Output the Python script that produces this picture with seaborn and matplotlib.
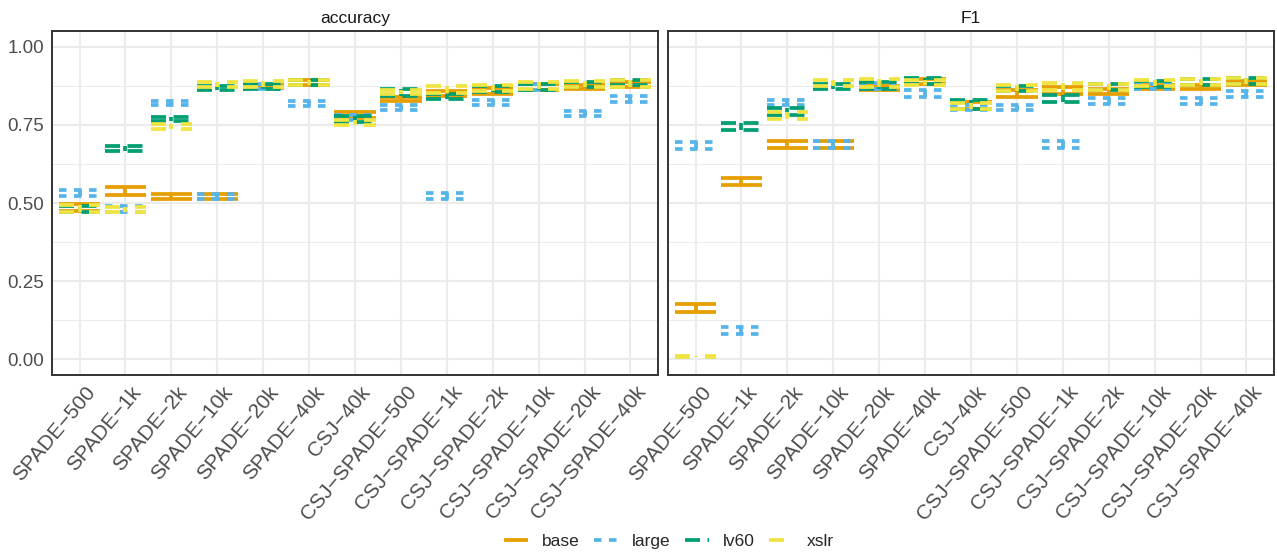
"""
Accuracy / F1 ranges per training set and model, faceted errorbar chart
"""

import numpy as np
import pandas as pd
import matplotlib
matplotlib.use("Agg")
import matplotlib.pyplot as plt
import matplotlib.transforms as mtransforms
import seaborn as sns
from matplotlib.lines import Line2D

# === Data ===
categories = ["SPADE-500", "SPADE-1k", "SPADE-2k", "SPADE-10k", "SPADE-20k", "SPADE-40k",
              "CSJ-40k", "CSJ-SPADE-500", "CSJ-SPADE-1k", "CSJ-SPADE-2k",
              "CSJ-SPADE-10k", "CSJ-SPADE-20k", "CSJ-SPADE-40k"]
models = ["base", "large", "lv60", "xslr"]
metrics = ["accuracy", "F1"]

nan = np.nan

# accuracy (min / max over runs)
acc_base_lo = [0.475, 0.527, 0.513, 0.513, 0.867, 0.877, 0.772, 0.826, 0.842, 0.850, 0.860, 0.865, 0.872]
acc_base_hi = [0.497, 0.550, 0.530, 0.530, 0.878, 0.892, 0.790, 0.840, 0.858, 0.868, 0.880, 0.877, 0.888]
acc_large_lo = [0.522, 0.472, 0.812, 0.513, 0.866, 0.811, 0.765, 0.797, 0.512, 0.812, 0.862, 0.778, 0.822]
acc_large_hi = [0.540, 0.492, 0.827, 0.530, 0.880, 0.827, 0.782, 0.814, 0.532, 0.830, 0.882, 0.795, 0.843]
acc_lv60_lo = [0.470, 0.665, 0.762, 0.860, 0.866, 0.876, 0.760, 0.842, 0.832, 0.856, 0.862, 0.870, 0.876]
acc_lv60_hi = [0.490, 0.683, 0.776, 0.874, 0.880, 0.892, 0.778, 0.864, 0.850, 0.874, 0.882, 0.888, 0.893]
acc_xslr_lo = [0.470, 0.470, 0.738, 0.872, 0.870, 0.877, 0.748, 0.847, 0.852, 0.858, 0.864, 0.870, 0.872]
acc_xslr_hi = [0.495, 0.487, 0.752, 0.886, 0.890, 0.893, 0.767, 0.860, 0.873, 0.876, 0.886, 0.891, 0.894]

# F1 (min / max over runs)
f1_base_lo = [0.152, 0.556, 0.677, 0.677, 0.862, 0.880, 0.802, 0.840, 0.850, 0.850, 0.865, 0.866, 0.876]
f1_base_hi = [0.178, 0.580, 0.698, 0.698, 0.873, 0.898, 0.823, 0.860, 0.870, 0.863, 0.878, 0.878, 0.890]
f1_large_lo = [0.672, 0.080, 0.812, 0.677, 0.866, 0.840, 0.796, 0.796, 0.677, 0.815, 0.864, 0.815, 0.840]
f1_large_hi = [0.694, 0.103, 0.830, 0.698, 0.883, 0.860, 0.813, 0.813, 0.698, 0.835, 0.880, 0.835, 0.859]
f1_lv60_lo = [nan, 0.735, 0.780, 0.864, 0.866, 0.880, 0.800, 0.857, 0.822, 0.861, 0.871, 0.877, 0.881]
f1_lv60_hi = [nan, 0.757, 0.803, 0.880, 0.888, 0.900, 0.828, 0.874, 0.845, 0.880, 0.891, 0.895, 0.900]
f1_xslr_lo = [0.006, nan, 0.768, 0.875, 0.871, 0.876, 0.800, 0.858, 0.862, 0.861, 0.873, 0.878, 0.880]
f1_xslr_hi = [0.012, nan, 0.790, 0.894, 0.896, 0.894, 0.820, 0.878, 0.884, 0.882, 0.894, 0.898, 0.901]

ranges = {
    ("accuracy", "base"): (acc_base_lo, acc_base_hi),
    ("accuracy", "large"): (acc_large_lo, acc_large_hi),
    ("accuracy", "lv60"): (acc_lv60_lo, acc_lv60_hi),
    ("accuracy", "xslr"): (acc_xslr_lo, acc_xslr_hi),
    ("F1", "base"): (f1_base_lo, f1_base_hi),
    ("F1", "large"): (f1_large_lo, f1_large_hi),
    ("F1", "lv60"): (f1_lv60_lo, f1_lv60_hi),
    ("F1", "xslr"): (f1_xslr_lo, f1_xslr_hi),
}

colors = {"base": "#E69F00", "large": "#56B4E9", "lv60": "#009E73", "xslr": "#F0E442"}
linestyles = {"base": "-", "large": (0, (2, 2)), "lv60": (0, (4, 2)), "xslr": (0, (4, 4))}
LW = 2.7

# long table: two rows (min, max) per metric / model / category
rows = []
for (metric, model), (lo, hi) in ranges.items():
    for cat, a, b in zip(categories, lo, hi):
        if np.isnan(a):
            continue
        rows.append({"metric": metric, "model": model, "category": cat, "value": a})
        rows.append({"metric": metric, "model": model, "category": cat, "value": b})
df = pd.DataFrame(rows)

# === Style ===
sns.set_style("white")
plt.rcParams["font.family"] = ["Liberation Sans", "DejaVu Sans"]
FS = 12.5
FS_Y = 13.5
FS_X = 15.0
ROT = 50

fig = plt.figure(figsize=(12.77, 5.54), dpi=100)
W, H = 1277, 554
ax1 = fig.add_axes([52 / W, 179 / H, 606 / W, 344 / H])
ax2 = fig.add_axes([668 / W, 179 / H, 606 / W, 344 / H], sharey=ax1)

shift = mtransforms.ScaledTranslation(5 / 100, 0, fig.dpi_scale_trans)

for ax, metric in zip([ax1, ax2], metrics):
    sub = df[df["metric"] == metric]
    for model in models:
        d = sub[sub["model"] == model]
        sns.pointplot(
            data=d, x="category", y="value", order=categories,
            errorbar=lambda v: (v.min(), v.max()),
            capsize=0.9, color=colors[model],
            marker="", linestyle="none", ax=ax,
            err_kws={"linewidth": LW, "linestyle": linestyles[model],
                     "solid_capstyle": "butt", "dash_capstyle": "butt"},
        )

    ax.set_xlim(-0.6, len(categories) - 0.4)
    ax.set_ylim(-0.05, 1.05)
    ax.set_yticks([0, 0.25, 0.5, 0.75, 1.0])
    ax.set_yticks([0.125, 0.375, 0.625, 0.875], minor=True)
    ax.grid(True, which="major", color="#EBEBEB", linewidth=1.5)
    ax.grid(True, which="minor", axis="y", color="#EBEBEB", linewidth=0.75)
    ax.set_axisbelow(True)
    ax.set_xlabel("")
    ax.set_ylabel("")
    ax.set_title(metric, fontsize=FS, color="#1A1A1A", pad=6)
    for s in ax.spines.values():
        s.set_color("#333333")
        s.set_linewidth(1.4)
    ax.tick_params(axis="both", which="major", length=3.5, width=1.0, color="#333333",
                   labelcolor="#4D4D4D", pad=2)
    ax.tick_params(axis="y", labelsize=FS_Y)
    ax.tick_params(axis="y", which="minor", length=0)
    ax.set_xticks(range(len(categories)))
    ax.set_xticklabels([c.replace("-", "\u2212") for c in categories], fontsize=FS_X,
                       rotation=ROT, ha="right", va="top", rotation_mode="anchor")
    for lab in ax.get_xticklabels():
        lab.set_transform(lab.get_transform() + shift)

ax1.set_yticklabels(["0.00", "0.25", "0.50", "0.75", "1.00"])
ax2.tick_params(axis="y", which="both", left=False, labelleft=False)

handles = [Line2D([0], [0], color=colors[m], lw=LW, linestyle=linestyles[m],
                  solid_capstyle="butt", dash_capstyle="butt") for m in models]
fig.legend(handles, models, loc="center", bbox_to_anchor=(669 / W, 1 - 541.5 / H),
           ncol=4, frameon=False, fontsize=FS, handlelength=1.4, handletextpad=0.8,
           columnspacing=0.8)

fig.savefig("out.png", dpi=100)
